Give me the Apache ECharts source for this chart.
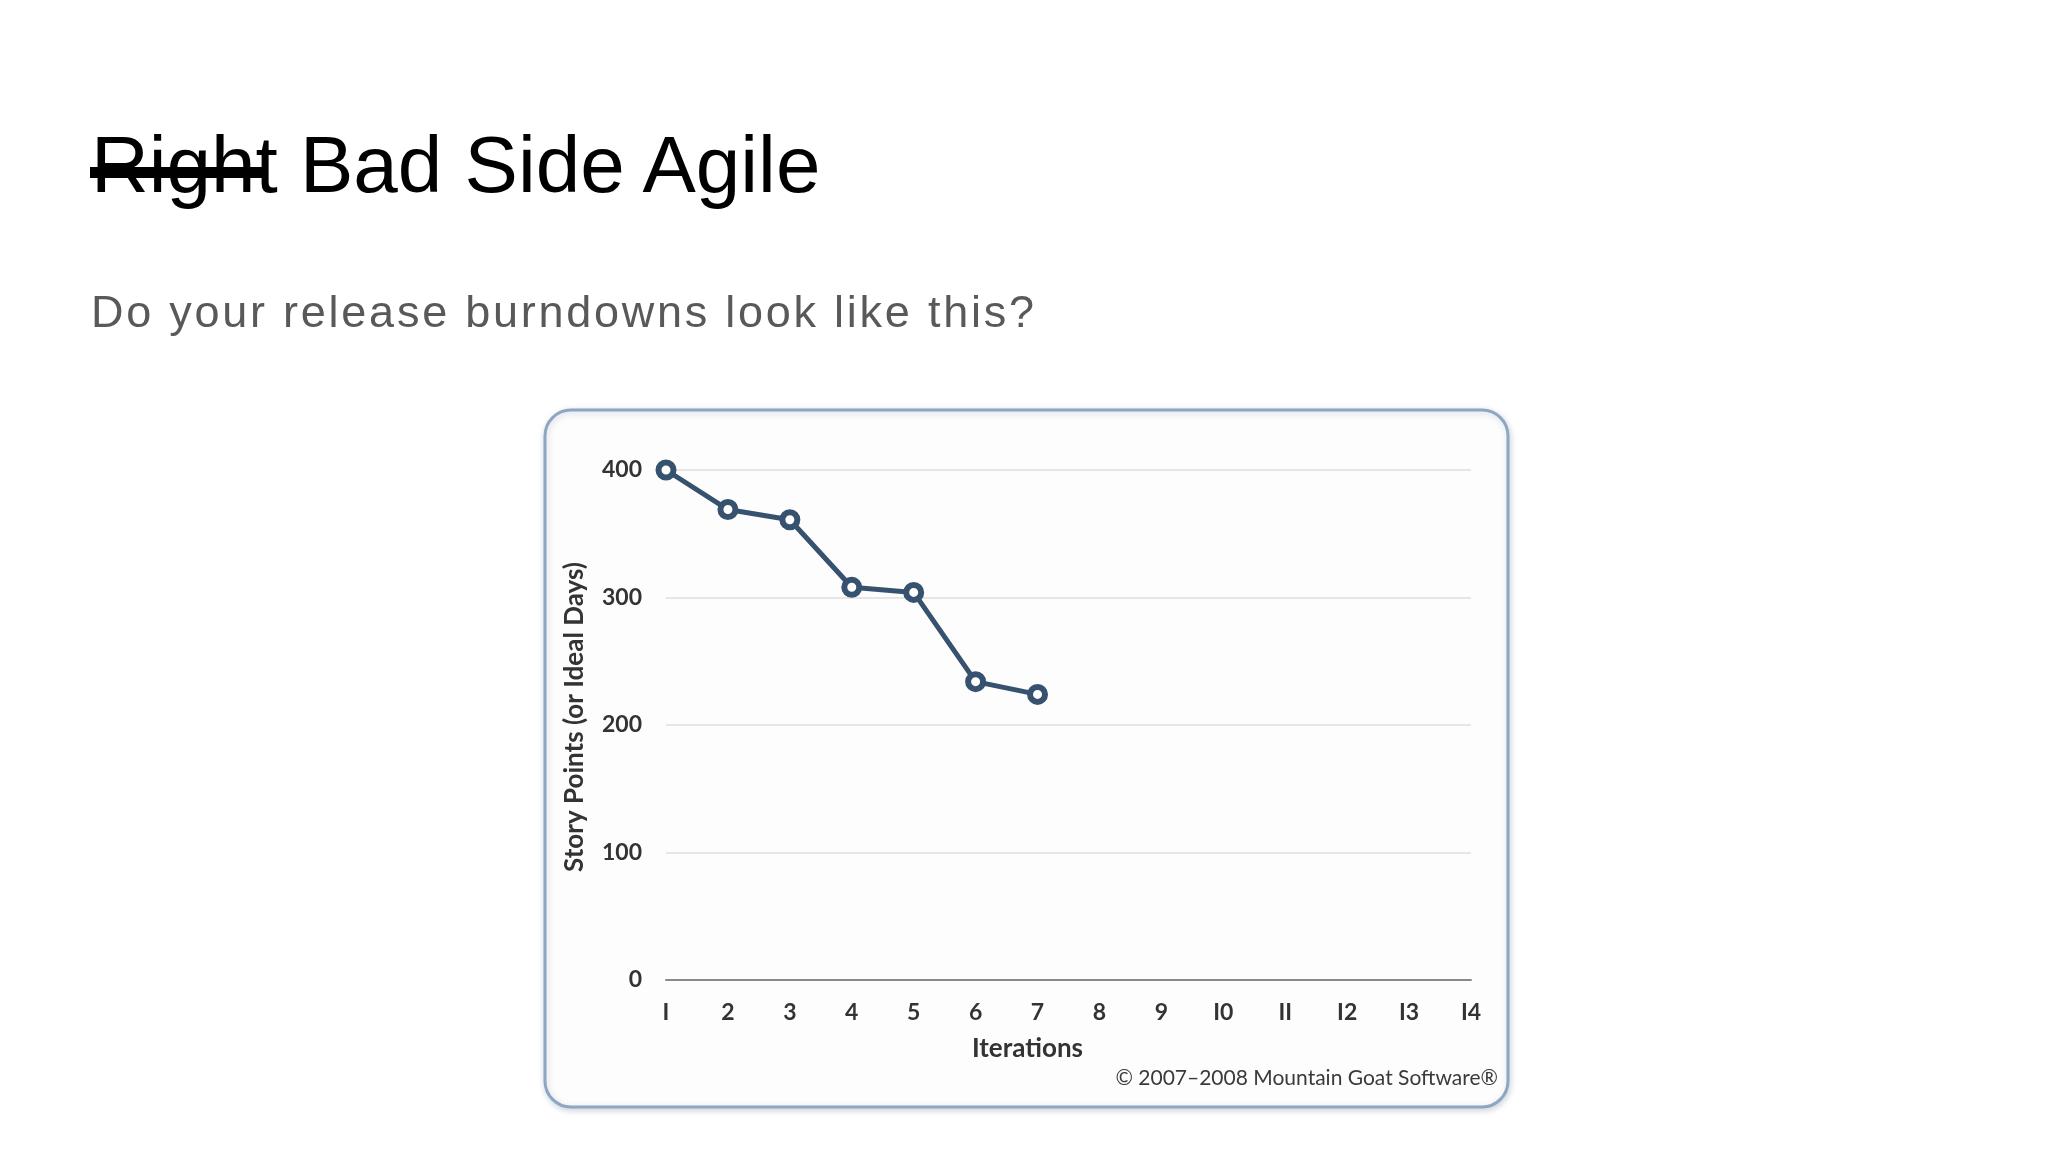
<!DOCTYPE html>
<html>
<head>
<meta charset="utf-8">
<title>Right Bad Side Agile</title>
<script src="https://cdn.jsdelivr.net/npm/echarts@6/dist/echarts.min.js"></script>
<style>
  html, body { margin: 0; padding: 0; background: #ffffff; }
  #main { position: absolute; left: 0; top: 0; width: 2048px; height: 1152px; }
  #title {
    position: absolute; left: 91px; top: 125px; margin: 0;
    font-family: "Liberation Sans", Arial, sans-serif; font-weight: normal;
    font-size: 80px; line-height: 80px; color: #000; white-space: nowrap;
  }
  #strike { position: absolute; left: 90px; top: 167px; width: 173px; height: 11px; background: #000; }
  #sub {
    position: absolute; left: 91px; top: 289px; margin: 0;
    font-family: "Liberation Sans", Arial, sans-serif;
    font-size: 45px; line-height: 45px; letter-spacing: 2.75px; color: #595959; white-space: nowrap;
  }
</style>
</head>
<body>
<div id="main"></div>
<h1 id="title"><del style="text-decoration:none">Right</del> Bad Side Agile</h1>
<div id="strike"></div>
<p id="sub">Do your release burndowns look like this?</p>
<script type="text/javascript">
// 数据
var iterations = [1, 2, 3, 4, 5, 6, 7];
var storyPoints = [400, 369, 361, 308, 304, 234, 224];
var xTicks = ['I', '2', '3', '4', '5', '6', '7', '8', '9', 'I0', 'II', 'I2', 'I3', 'I4'];

var lineColor = '#37526f';
var labelFont = 'Lato, "Open Sans", sans-serif';

var seriesData = iterations.map(function (it, i) { return [it, storyPoints[i]]; });

var myChart = echarts.init(document.getElementById('main'));

var option = {
    animation: false,
    backgroundColor: 'transparent',
    graphic: [
        {
            type: 'rect',
            z: -10,
            shape: { x: 545, y: 410, width: 963, height: 697, r: 26 },
            style: {
                fill: '#fdfdfe',
                stroke: '#8ea6c2',
                lineWidth: 3,
                shadowBlur: 6,
                shadowOffsetX: 1,
                shadowOffsetY: 2,
                shadowColor: 'rgba(80,100,130,0.25)'
            }
        },
        {
            type: 'text',
            right: 2048 - 1498,
            top: 1068,
            style: {
                text: '© 2007–2008 Mountain Goat Software®',
                fill: '#3a3a3a',
                font: 'normal 21px ' + labelFont
            }
        }
    ],
    grid: {
        left: 666,
        right: 577,
        top: 470,
        bottom: 172,
        containLabel: false
    },
    xAxis: {
        type: 'value',
        min: 1,
        max: 14,
        interval: 1,
        name: 'Iterations',
        nameLocation: 'middle',
        nameGap: 56,
        nameTextStyle: {
            color: '#333',
            fontFamily: labelFont,
            fontWeight: 'bold',
            fontSize: 26,
            padding: [0, 82, 0, 0]
        },
        axisLine: { show: true, lineStyle: { color: '#8a8a8a', width: 2 } },
        axisTick: { show: false },
        splitLine: { show: false },
        axisLabel: {
            margin: 21,
            color: '#333',
            fontFamily: labelFont,
            fontWeight: 'bold',
            fontSize: 23,
            formatter: function (v) { return xTicks[v - 1]; }
        }
    },
    yAxis: {
        type: 'value',
        min: 0,
        max: 400,
        interval: 100,
        name: 'Story Points (or Ideal Days)',
        nameLocation: 'middle',
        nameRotate: 90,
        nameGap: 78,
        nameTextStyle: {
            color: '#333',
            fontFamily: labelFont,
            fontWeight: 'bold',
            fontSize: 26,
            padding: [0, 0, 0, 16]
        },
        axisLine: { show: false },
        axisTick: { show: false },
        splitLine: { show: true, lineStyle: { color: '#e6e6e8', width: 2 } },
        axisLabel: {
            margin: 24,
            color: '#333',
            fontFamily: labelFont,
            fontWeight: 'bold',
            fontSize: 23
        }
    },
    series: [
        {
            type: 'line',
            data: seriesData,
            symbol: 'circle',
            symbolSize: 15,
            showAllSymbol: true,
            lineStyle: { color: lineColor, width: 5 },
            itemStyle: { color: '#ffffff', borderColor: lineColor, borderWidth: 6 },
            z: 5
        }
    ]
};

myChart.setOption(option);
</script>
</body>
</html>
